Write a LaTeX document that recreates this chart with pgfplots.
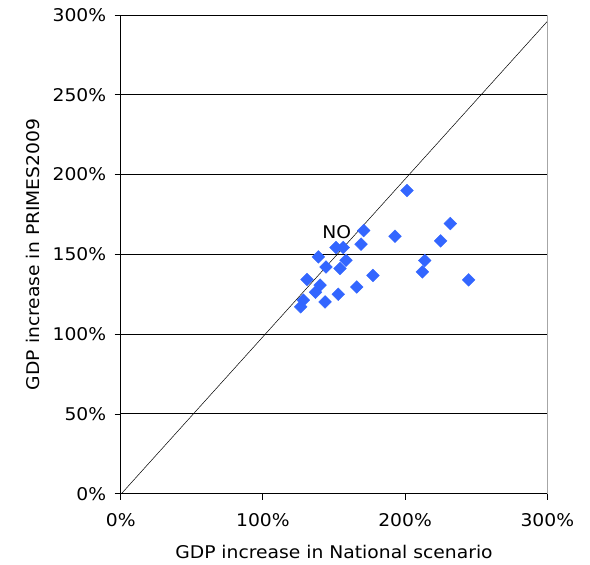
\documentclass[border=0pt]{standalone}
\usepackage{pgfplots}
\pgfplotsset{compat=1.18}
\usepackage{fontspec}
\setmainfont[FakeStretch=1.07]{DejaVu Sans}
\definecolor{ptblue}{HTML}{3366FF}
\newcommand{\lblfont}{\fontsize{17.5}{20}\selectfont}

\begin{document}
\begin{tikzpicture}
\begin{axis}[
  scale only axis,
  width=426.6pt, height=478.7pt,
  xmin=0, xmax=300, ymin=0, ymax=300,
  axis x line*=bottom, axis y line*=left,
  axis line style={black, line width=0.8pt},
  xtick={0,100,200,300},
  xticklabels={0\%,100\%,200\%,300\%},
  ytick={0,50,100,150,200,250,300},
  yticklabels={0\%,50\%,100\%,150\%,200\%,250\%,300\%},
  ymajorgrids,
  grid style={black, line width=0.9pt},
  tick align=outside,
  major tick length=6pt,
  tick style={black, line width=0.8pt},
  tick label style={font=\lblfont},
  xticklabel style={yshift=-10pt},
  yticklabel style={xshift=-5pt},
  label style={font=\lblfont},
  xlabel={GDP increase in National scenario},
  ylabel={GDP increase in PRIMES2009},
  xlabel style={yshift=-12pt},
  ylabel style={yshift=6pt},
  clip=false,
]
% 45-degree reference line
\addplot[black, line width=0.5pt] coordinates {(0.5,0) (300,296)};

% countries
\addplot[only marks, mark=square*, mark size=4.5pt,
  mark options={rotate=45, fill=ptblue, draw=ptblue}] coordinates {
  (201.3,190.0)
  (231.8,169.3)
  (192.9,161.4)
  (225.0,158.4)
  (170.9,164.9)
  (169.0,156.4)
  (151.4,154.3)
  (156.5,154.3)
  (139.0,148.4)
  (158.4,146.3)
  (213.8,146.1)
  (144.4,142.1)
  (154.2,141.1)
  (212.1,139.0)
  (177.4,136.8)
  (244.7,134.0)
  (131.0,134.2)
  (166.0,129.6)
  (140.2,130.7)
  (137.0,126.3)
  (153.0,125.0)
  (143.7,120.2)
  (128.4,121.3)
  (126.6,117.1)
};

\node[font=\lblfont] at (axis cs:152,164) {NO};

% frame on the top and right
\draw[black, line width=0.8pt] (rel axis cs:0,1) -- (rel axis cs:1,1);
\draw[gray!70, line width=0.8pt] (rel axis cs:1,0) -- (rel axis cs:1,1);
\end{axis}
\pgfresetboundingbox
\path (-120.7pt,-71.3pt) rectangle (469.3pt,493.7pt);
\end{tikzpicture}
\end{document}
